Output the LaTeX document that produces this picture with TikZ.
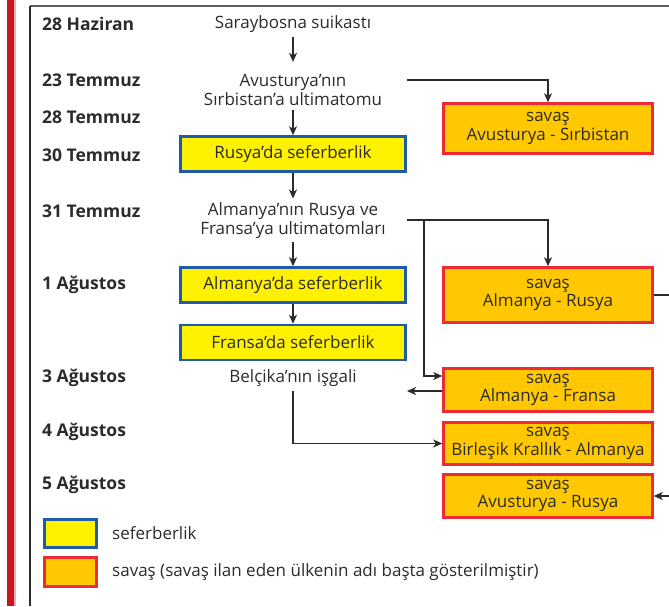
\documentclass[tikz,border=0pt]{standalone}
\usepackage{fontspec}
\setmainfont{Open Sans}
\usetikzlibrary{arrows.meta}
\definecolor{ink}{HTML}{2B2B2B}
\definecolor{mobfill}{HTML}{FFF200}
\definecolor{mobline}{HTML}{1F5CA8}
\definecolor{warfill}{HTML}{FFC800}
\definecolor{warline}{HTML}{EE2A35}
\definecolor{barred}{HTML}{C8151F}
\definecolor{framegray}{HTML}{5F5F5F}
\tikzset{
  date/.style={
    anchor=west,
    inner sep=0pt,
    text=ink,
    font=\fontsize{17.5}{19}\selectfont\bfseries
  },
  event/.style={
    align=center,
    inner sep=4pt,
    text=ink,
    font=\fontsize{17}{18.5}\selectfont
  },
  mobbox/.style={
    draw=mobline,
    fill=mobfill,
    line width=2.5pt,
    minimum width=225pt,
    minimum height=35pt,
    inner sep=0pt,
    text=ink,
    font=\fontsize{17}{18.5}\selectfont
  },
  warbox/.style={
    draw=warline,
    fill=warfill,
    line width=2.5pt,
    minimum width=209pt,
    inner sep=0pt,
    align=center,
    text=ink,
    font=\fontsize{17}{18.5}\selectfont
  },
  swatch/.style={line width=2.5pt,minimum width=52pt,inner sep=0pt},
  legend/.style={anchor=west,inner sep=0pt,text=ink,
    font=\fontsize{17}{18.5}\selectfont},
  edge/.style={-{Stealth[length=9pt,width=8pt,inset=2.5pt]},line width=1.4pt,draw=ink},
  link/.style={line width=1.4pt,draw=ink}
}

\begin{document}
\begin{tikzpicture}[x=1pt,y=-1pt]
  \clip (0,0) rectangle (669,606);

  % Page edge and frame.
  \fill[barred] (7,0) rectangle (14,606);
  \fill[barred!35] (14,0) rectangle (15.5,606);
  \draw[framegray,line width=2pt] (669,6) -- (30,6);
  \draw[ink,line width=1.3pt] (30,6) -- (30,606);

  % Left column: dates.
  \node[date] (d1) at (42,24) {28 Haziran};
  \node[date] (d2) at (42,80) {23 Temmuz};
  \node[date] (d3) at (42,117) {28 Temmuz};
  \node[date] (d4) at (42,155) {30 Temmuz};
  \node[date] (d5) at (42,211) {31 Temmuz};
  \node[date] (d6) at (42,285) {1 Ağustos};
  \node[date] (d7) at (42,378) {3 Ağustos};
  \node[date] (d8) at (42,432) {4 Ağustos};
  \node[date] (d9) at (42,485) {5 Ağustos};

  % Middle column: events and mobilisations.
  \node[event] (sar) at (293,24) {Saraybosna suikastı};
  \node[event] (ult1) at (293,90)
    {Avusturya’nın\\[1pt]Sırbistan’a ultimatomu};
  \node[mobbox] (rus) at (293,154) {Rusya’da seferberlik};
  \node[event] (ult2) at (293,220.5)
    {Almanya’nın Rusya ve\\Fransa’ya ultimatomları};
  \node[mobbox] (alm) at (293,285) {Almanya’da seferberlik};
  \node[mobbox] (fra) at (293,342.5) {Fransa’da seferberlik};
  \node[event] (bel) at (293,378) {Belçika’nın işgali};

  \draw[edge,shorten >=8pt] (sar) -- (ult1);
  \draw[edge] (ult1) -- (rus);
  \draw[edge] (rus) -- (ult2);
  \draw[edge] (ult2) -- (alm);
  \draw[edge] (alm) -- (fra);

  % Right column: declarations of war.
  \node[warbox,minimum height=50pt] (war1) at (548,128.5)
    {savaş\\Avusturya - Sırbistan};
  \node[warbox,minimum height=55pt] (war2) at (548,295)
    {savaş\\Almanya - Rusya};
  \node[warbox,minimum height=43pt] (war3) at (548,390)
    {savaş\\Almanya - Fransa};
  \node[warbox,minimum height=42pt] (war4) at (548,443.5)
    {savaş\\Birleşik Krallık - Almanya};
  \node[warbox,minimum height=43pt] (war5) at (548,496)
    {savaş\\Avusturya - Rusya};

  \coordinate (ult1-out) at (407,80);
  \coordinate (ult2-out) at (407,220);
  \coordinate (split) at (424,220);
  \coordinate (bel-in) at (407,391);

  \draw[edge] (ult1-out) -| (war1.north);
  \draw[edge] (ult2-out) -| (war2.north);
  \draw[edge] (split) |- ([yshift=14pt]war3.west);
  \draw[edge] ([yshift=-1pt]war3.west) -- (bel-in);
  \draw[edge] (bel) |- (war4.west);
  \draw[edge] (war2.east) -- ++(40,0) |- (war5.east);

  % Legend.
  \node[swatch,draw=mobline,fill=mobfill,minimum height=28pt] (key1) at (70.5,533.5) {};
  \node[swatch,draw=warline,fill=warfill,minimum height=29pt] (key2) at (70.5,572) {};
  \node[legend] (lab1) at (112,533) {seferberlik};
  \node[legend] (lab2) at (112,572)
    {savaş (savaş ilan eden ülkenin adı başta gösterilmiştir)};
\end{tikzpicture}
\end{document}
